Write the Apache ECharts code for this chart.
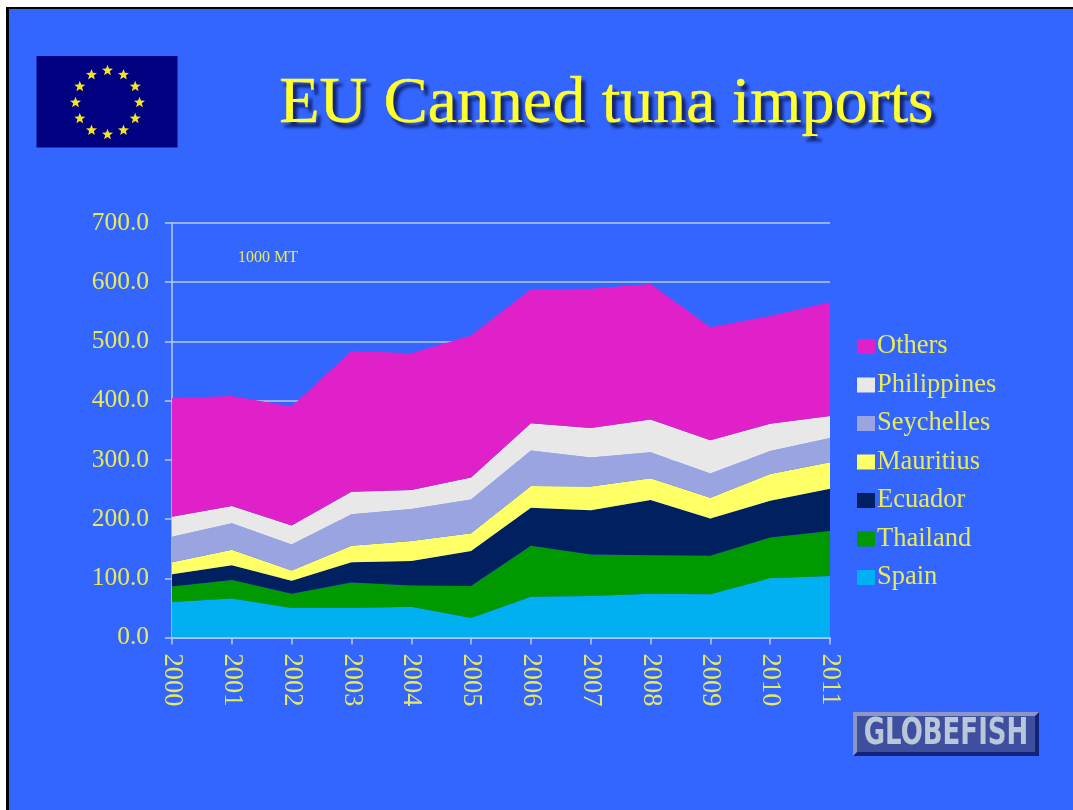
<!DOCTYPE html>
<html>
<head>
<meta charset="utf-8">
<title>EU Canned tuna imports</title>
<script src="https://cdn.jsdelivr.net/npm/echarts@6/dist/echarts.min.js"></script>
<style>
  html, body { margin: 0; padding: 0; background: #fff; width: 1073px; height: 810px; overflow: hidden; }
  #slide { position: absolute; left: 6px; top: 7px; width: 1064px; height: 801px; background: #3366ff;
           border-left: 3px solid #000; border-top: 2px solid #000; }
  #chart { position: absolute; left: 0; top: 0; width: 1073px; height: 810px; }
</style>
</head>
<body>
<div id="slide"></div>
<div id="chart"></div>
<script>
// Thousand metric tonnes per supplier, stacked from the bottom up
const years = ['2000','2001','2002','2003','2004','2005','2006','2007','2008','2009','2010','2011'];
const spain       = [60, 66, 50, 50, 52, 33, 69, 70, 74, 73, 100, 104];
const thailand    = [26, 31, 24, 43, 36, 54, 86, 70, 65, 65, 69, 76];
const ecuador     = [21, 25, 22, 34, 41, 59, 64, 75, 93, 63, 62, 71];
const mauritius   = [20, 26, 17, 28, 34, 30, 37, 40, 37, 35, 45, 45];
const seychelles  = [43, 45, 44, 53, 54, 57, 60, 49, 44, 41, 39, 41];
const philippines = [34, 29, 32, 38, 32, 37, 46, 50, 55, 56, 46, 37];
const others      = [200, 186, 201, 238, 231, 240, 226, 235, 229, 191, 182, 192];

const SERIF = '"Liberation Serif", "Times New Roman", serif';
const LABEL = '#e9e95c';
const AXIS = '#b9cbee';

const layers = [
  ['Spain', spain, '#00b0f0'],
  ['Thailand', thailand, '#009900'],
  ['Ecuador', ecuador, '#002060'],
  ['Mauritius', mauritius, '#ffff66'],
  ['Seychelles', seychelles, '#99a4e0'],
  ['Philippines', philippines, '#e8e8e8'],
  ['Others', others, '#e020c8']
];

// Five-pointed star for the flag's ring
function starPoints(cx, cy, R) {
  const pts = [];
  for (let i = 0; i < 10; i++) {
    const r = i % 2 ? R * 0.42 : R;
    const a = -Math.PI / 2 + i * Math.PI / 5;
    pts.push([cx + r * Math.cos(a), cy + r * Math.sin(a)]);
  }
  return pts;
}

const flagStars = [];
for (let i = 0; i < 12; i++) {
  const a = i * Math.PI / 6;
  flagStars.push({
    type: 'polygon',
    shape: { points: starPoints(107.5 + 32 * Math.sin(a), 102.5 - 32 * Math.cos(a), 5.8) },
    style: { fill: '#f2e528' }
  });
}

const chart = echarts.init(document.getElementById('chart'), null, { renderer: 'canvas' });
chart.setOption({
  animation: false,
  backgroundColor: 'transparent',
  grid: { left: 172, top: 223, right: 243, bottom: 172.5, containLabel: false },
  xAxis: {
    type: 'category',
    data: years,
    boundaryGap: false,
    axisLine: { lineStyle: { color: AXIS, width: 1.5 } },
    axisTick: { show: true, length: 7, lineStyle: { color: AXIS, width: 1.5 } },
    axisLabel: {
      rotate: -90, interval: 0, margin: 16, color: LABEL,
      fontFamily: SERIF, fontSize: 26.5, showMinLabel: true, showMaxLabel: true
    }
  },
  yAxis: {
    type: 'value',
    min: 0, max: 700, interval: 100,
    axisLine: { show: true, lineStyle: { color: AXIS, width: 1.5 } },
    axisTick: { show: true, length: 7, lineStyle: { color: AXIS, width: 1.5 } },
    splitLine: { show: true, lineStyle: { color: AXIS, width: 1.5 } },
    axisLabel: {
      margin: 23, color: LABEL, fontFamily: SERIF, fontSize: 25.5,
      padding: [2, 0, 0, 0],
      formatter: v => v.toFixed(1)
    }
  },
  legend: {
    left: 852, top: 328,
    orient: 'vertical',
    icon: 'rect',
    itemWidth: 18, itemHeight: 15,
    itemGap: 11.5,
    data: layers.map(l => l[0]).reverse(),
    textStyle: { color: LABEL, fontFamily: SERIF, fontSize: 26.5, lineHeight: 26, padding: [0, 0, 0, -3] }
  },
  series: layers.map(([name, values, color]) => ({
    name,
    type: 'line',
    stack: 'imports',
    data: values,
    showSymbol: false,
    symbol: 'none',
    lineStyle: { width: 0, color },
    itemStyle: { color },
    areaStyle: { color, opacity: 1 }
  })),
  graphic: [
    // Title
    {
      type: 'text', left: 279, top: 71,
      style: {
        text: 'EU Canned tuna imports', fill: '#ffff2e',
        font: '66px ' + SERIF,
        stroke: '#ffff2e', lineWidth: 0.6,
        textShadowColor: '#14246e', textShadowBlur: 3, textShadowOffsetX: 4, textShadowOffsetY: 5
      }
    },
    // Unit note
    {
      type: 'text', left: 238, top: 250,
      style: { text: '1000 MT', fill: LABEL, font: '16px ' + SERIF }
    },
    // EU flag
    { type: 'rect', shape: { x: 36.5, y: 56, width: 141, height: 91.5 }, style: { fill: '#000080' } },
    ...flagStars,
    // GLOBEFISH badge with bevelled edges
    { type: 'rect', shape: { x: 853, y: 712, width: 186, height: 44 }, style: { fill: '#12247a' } },
    { type: 'polygon', shape: { points: [[853, 712], [1039, 712], [1035, 716], [857, 716], [857, 752], [853, 756]] }, style: { fill: '#8f96c6' } },
    { type: 'rect', shape: { x: 857, y: 716, width: 178, height: 36 }, style: { fill: '#3f4f9f' } },
    {
      type: 'text', x: 946, y: 734.5, scaleY: 1.4,
      style: {
        text: 'GLOBEFISH', fill: '#b9c7d8', align: 'center', verticalAlign: 'middle',
        font: 'bold 26px "DejaVu Sans", sans-serif'
      }
    }
  ]
});
</script>
</body>
</html>
